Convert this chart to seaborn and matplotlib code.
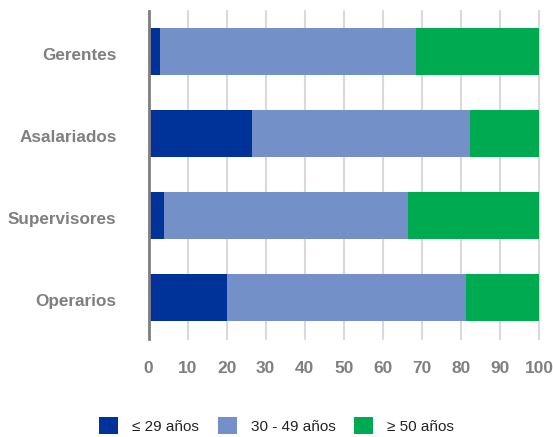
import matplotlib
matplotlib.use("Agg")
import matplotlib.pyplot as plt
import matplotlib.transforms as mtransforms
from matplotlib.patches import Patch
import seaborn as sns
import pandas as pd
import numpy as np

categories = ["Gerentes", "Asalariados", "Supervisores", "Operarios"]
series_names = ["≤ 29 años", "30 - 49 años", "≥ 50 años"]
joven = [3.0, 26.5, 4.0, 20.0]
medio = [65.5, 55.8, 62.5, 61.3]
mayor = [31.5, 17.7, 33.5, 18.7]
x_ticks = [0, 10, 20, 30, 40, 50, 60, 70, 80, 90, 100]
colors = ["#003399", "#7390C8", "#00AA50"]

sns.set_theme(style="white")
plt.rcParams["font.family"] = ["Liberation Sans", "DejaVu Sans"]

fig = plt.figure(figsize=(5.53, 4.37), dpi=100)
ax = fig.add_axes([148.5 / 553, 1 - 338.5 / 437, (539 - 148.5) / 553, (338.5 - 10.5) / 437])

df = pd.DataFrame({"cat": categories, "a": joven, "b": medio, "c": mayor})
df["c1"] = df["a"]
df["c2"] = df["a"] + df["b"]
df["c3"] = df["a"] + df["b"] + df["c"]

for col, colr in zip(["c3", "c2", "c1"], colors[::-1]):
    sns.barplot(data=df, x=col, y="cat", order=categories, color=colr,
                orient="h", width=0.573, ax=ax, saturation=1, linewidth=0)

ax.set_xlim(0, 100)
ax.set_ylim(3.5, -0.5)
ax.set_xticks(x_ticks)
ax.set_xlabel("")
ax.set_ylabel("")
ax.xaxis.grid(True, color="#d9d9d9", linewidth=1.5)
ax.set_axisbelow(True)
for s in ["top", "right", "bottom"]:
    ax.spines[s].set_visible(False)
ax.spines["left"].set_color("#808080")
ax.spines["left"].set_linewidth(2)
ax.tick_params(axis="x", length=0, pad=16.5, labelsize=12.5, labelcolor="#7f7f7f")
ax.tick_params(axis="y", length=0, pad=23, labelsize=12.3, labelcolor="#7f7f7f")
for lab in ax.get_xticklabels() + ax.get_yticklabels():
    lab.set_fontweight("bold")
offset = mtransforms.ScaledTranslation(0, -2.5 / 100, fig.dpi_scale_trans)
for lab in ax.get_yticklabels():
    lab.set_transform(lab.get_transform() + offset)
for line in ax.get_xgridlines():
    line.set_clip_on(False)

handles = [Patch(facecolor=c, edgecolor="none") for c in colors]
fig.legend(handles, series_names, loc="center", bbox_to_anchor=(0.5, 1 - 425.5 / 437),
           ncol=3, frameon=False, fontsize=11, handlelength=1.25, handleheight=1.25,
           handletextpad=0.9, columnspacing=1.25, labelcolor="#222222",
           borderpad=0)

fig.savefig("out.png", dpi=100)
